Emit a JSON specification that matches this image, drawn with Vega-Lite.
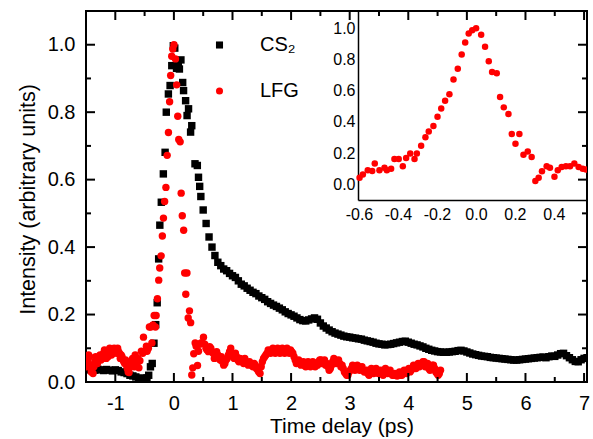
{
"$schema": "https://vega.github.io/schema/vega-lite/v6.json",
"width": 501, "height": 371,
"autosize": {"type": "none"},
"padding": {"left": 86, "top": 11, "right": 6, "bottom": 57},
"background": "white",
"config": {
 "font": "Liberation Sans",
 "view": {"stroke": "#000", "strokeWidth": 2},
 "axis": {"grid": false, "domain": false, "tickColor": "#000", "labelColor": "#000", "titleColor": "#000", "labelFont": "Liberation Sans", "titleFont": "Liberation Sans", "titleFontWeight": "normal", "labelFlush": false, "labelOverlap": false}
},
"datasets": {
"xt": [{"t":-1.5,"k":"minor"},{"t":-1,"k":"major"},{"t":-0.5,"k":"minor"},{"t":0,"k":"major"},{"t":0.5,"k":"minor"},{"t":1,"k":"major"},{"t":1.5,"k":"minor"},{"t":2,"k":"major"},{"t":2.5,"k":"minor"},{"t":3,"k":"major"},{"t":3.5,"k":"minor"},{"t":4,"k":"major"},{"t":4.5,"k":"minor"},{"t":5,"k":"major"},{"t":5.5,"k":"minor"},{"t":6,"k":"major"},{"t":6.5,"k":"minor"},{"t":7,"k":"major"}],
"yt": [{"v":0.1,"k":"minor"},{"v":0.2,"k":"major"},{"v":0.3,"k":"minor"},{"v":0.4,"k":"major"},{"v":0.5,"k":"minor"},{"v":0.6,"k":"major"},{"v":0.7,"k":"minor"},{"v":0.8,"k":"major"},{"v":0.9,"k":"minor"},{"v":1.0,"k":"major"}],
"pts": [
{"s":"CS2","t":-1.5,"v":0.038},{"s":"CS2","t":-1.45,"v":0.036},{"s":"CS2","t":-1.4,"v":0.04},{"s":"CS2","t":-1.35,"v":0.035},{"s":"CS2","t":-1.3,"v":0.038},{"s":"CS2","t":-1.25,"v":0.036},{"s":"CS2","t":-1.2,"v":0.034},{"s":"CS2","t":-1.15,"v":0.037},{"s":"CS2","t":-1.1,"v":0.035},{"s":"CS2","t":-1.05,"v":0.033},{"s":"CS2","t":-1.0,"v":0.036},{"s":"CS2","t":-0.95,"v":0.034},{"s":"CS2","t":-0.9,"v":0.03},{"s":"CS2","t":-0.85,"v":0.028},{"s":"CS2","t":-0.8,"v":0.025},{"s":"CS2","t":-0.75,"v":0.02},{"s":"CS2","t":-0.7,"v":0.018},{"s":"CS2","t":-0.65,"v":0.015},{"s":"CS2","t":-0.6,"v":0.01},{"s":"CS2","t":-0.55,"v":0.012},{"s":"CS2","t":-0.5,"v":0.008},
{"s":"CS2","t":-0.46,"v":0.012},{"s":"CS2","t":-0.43,"v":0.02},{"s":"CS2","t":-0.4,"v":0.045},{"s":"CS2","t":-0.37,"v":0.055},{"s":"CS2","t":-0.34,"v":0.115},{"s":"CS2","t":-0.31,"v":0.17},{"s":"CS2","t":-0.285,"v":0.235},{"s":"CS2","t":-0.26,"v":0.365},{"s":"CS2","t":-0.24,"v":0.465},{"s":"CS2","t":-0.215,"v":0.533},{"s":"CS2","t":-0.18,"v":0.617},{"s":"CS2","t":-0.15,"v":0.681},{"s":"CS2","t":-0.13,"v":0.8},{"s":"CS2","t":-0.094,"v":0.854},{"s":"CS2","t":-0.065,"v":0.879},{"s":"CS2","t":-0.036,"v":0.938},{"s":"CS2","t":-0.01,"v":0.997},{"s":"CS2","t":0.015,"v":0.99},{"s":"CS2","t":0.045,"v":0.93},{"s":"CS2","t":0.075,"v":0.945},{"s":"CS2","t":0.094,"v":0.928},{"s":"CS2","t":0.12,"v":0.955},{"s":"CS2","t":0.15,"v":0.888},{"s":"CS2","t":0.165,"v":0.864},{"s":"CS2","t":0.2,"v":0.834},{"s":"CS2","t":0.225,"v":0.79},{"s":"CS2","t":0.25,"v":0.81},{"s":"CS2","t":0.285,"v":0.741},{"s":"CS2","t":0.305,"v":0.76},{"s":"CS2","t":0.36,"v":0.647},{"s":"CS2","t":0.4,"v":0.642},{"s":"CS2","t":0.42,"v":0.607},{"s":"CS2","t":0.44,"v":0.58},{"s":"CS2","t":0.46,"v":0.55},
{"s":"CS2","t":0.5,"v":0.51},{"s":"CS2","t":0.55,"v":0.47},{"s":"CS2","t":0.6,"v":0.43},{"s":"CS2","t":0.65,"v":0.4},{"s":"CS2","t":0.7,"v":0.375},{"s":"CS2","t":0.75,"v":0.355},{"s":"CS2","t":0.8,"v":0.345},{"s":"CS2","t":0.85,"v":0.335},{"s":"CS2","t":0.9,"v":0.33},{"s":"CS2","t":0.95,"v":0.322},{"s":"CS2","t":1.0,"v":0.315},{"s":"CS2","t":1.05,"v":0.31},{"s":"CS2","t":1.1,"v":0.3},{"s":"CS2","t":1.15,"v":0.29},{"s":"CS2","t":1.2,"v":0.285},{"s":"CS2","t":1.25,"v":0.278},{"s":"CS2","t":1.3,"v":0.272},{"s":"CS2","t":1.35,"v":0.266},{"s":"CS2","t":1.4,"v":0.262},{"s":"CS2","t":1.45,"v":0.255},{"s":"CS2","t":1.5,"v":0.25},{"s":"CS2","t":1.55,"v":0.245},{"s":"CS2","t":1.6,"v":0.238},{"s":"CS2","t":1.65,"v":0.233},{"s":"CS2","t":1.7,"v":0.228},{"s":"CS2","t":1.75,"v":0.224},{"s":"CS2","t":1.8,"v":0.219},{"s":"CS2","t":1.85,"v":0.214},{"s":"CS2","t":1.9,"v":0.208},{"s":"CS2","t":1.95,"v":0.203},{"s":"CS2","t":2.0,"v":0.199},{"s":"CS2","t":2.05,"v":0.195},{"s":"CS2","t":2.1,"v":0.19},{"s":"CS2","t":2.15,"v":0.185},{"s":"CS2","t":2.2,"v":0.182},{"s":"CS2","t":2.25,"v":0.181},{"s":"CS2","t":2.3,"v":0.184},{"s":"CS2","t":2.35,"v":0.187},{"s":"CS2","t":2.4,"v":0.19},{"s":"CS2","t":2.45,"v":0.186},{"s":"CS2","t":2.5,"v":0.175},{"s":"CS2","t":2.55,"v":0.166},{"s":"CS2","t":2.6,"v":0.16},{"s":"CS2","t":2.65,"v":0.154},{"s":"CS2","t":2.7,"v":0.149},{"s":"CS2","t":2.75,"v":0.145},{"s":"CS2","t":2.8,"v":0.142},{"s":"CS2","t":2.85,"v":0.139},{"s":"CS2","t":2.9,"v":0.136},{"s":"CS2","t":2.95,"v":0.134},{"s":"CS2","t":3.0,"v":0.133},{"s":"CS2","t":3.05,"v":0.131},{"s":"CS2","t":3.1,"v":0.13},{"s":"CS2","t":3.15,"v":0.128},{"s":"CS2","t":3.2,"v":0.127},{"s":"CS2","t":3.25,"v":0.124},{"s":"CS2","t":3.3,"v":0.122},{"s":"CS2","t":3.35,"v":0.12},{"s":"CS2","t":3.4,"v":0.118},{"s":"CS2","t":3.45,"v":0.115},{"s":"CS2","t":3.5,"v":0.113},{"s":"CS2","t":3.55,"v":0.112},{"s":"CS2","t":3.6,"v":0.11},{"s":"CS2","t":3.65,"v":0.111},{"s":"CS2","t":3.7,"v":0.112},{"s":"CS2","t":3.75,"v":0.114},{"s":"CS2","t":3.8,"v":0.116},{"s":"CS2","t":3.85,"v":0.118},{"s":"CS2","t":3.9,"v":0.12},{"s":"CS2","t":3.95,"v":0.121},{"s":"CS2","t":4.0,"v":0.118},{"s":"CS2","t":4.05,"v":0.115},{"s":"CS2","t":4.1,"v":0.112},{"s":"CS2","t":4.15,"v":0.11},{"s":"CS2","t":4.2,"v":0.107},{"s":"CS2","t":4.25,"v":0.104},{"s":"CS2","t":4.3,"v":0.1},{"s":"CS2","t":4.35,"v":0.097},{"s":"CS2","t":4.4,"v":0.094},{"s":"CS2","t":4.45,"v":0.092},{"s":"CS2","t":4.5,"v":0.09},{"s":"CS2","t":4.55,"v":0.089},{"s":"CS2","t":4.6,"v":0.088},{"s":"CS2","t":4.65,"v":0.088},{"s":"CS2","t":4.7,"v":0.089},{"s":"CS2","t":4.75,"v":0.09},{"s":"CS2","t":4.8,"v":0.091},{"s":"CS2","t":4.85,"v":0.093},{"s":"CS2","t":4.9,"v":0.094},{"s":"CS2","t":4.95,"v":0.092},{"s":"CS2","t":5.0,"v":0.089},{"s":"CS2","t":5.05,"v":0.086},{"s":"CS2","t":5.1,"v":0.083},{"s":"CS2","t":5.15,"v":0.081},{"s":"CS2","t":5.2,"v":0.079},{"s":"CS2","t":5.25,"v":0.077},{"s":"CS2","t":5.3,"v":0.076},{"s":"CS2","t":5.35,"v":0.075},{"s":"CS2","t":5.4,"v":0.073},{"s":"CS2","t":5.45,"v":0.072},{"s":"CS2","t":5.5,"v":0.071},{"s":"CS2","t":5.55,"v":0.07},{"s":"CS2","t":5.6,"v":0.069},{"s":"CS2","t":5.65,"v":0.068},{"s":"CS2","t":5.7,"v":0.067},{"s":"CS2","t":5.75,"v":0.066},{"s":"CS2","t":5.8,"v":0.065},{"s":"CS2","t":5.85,"v":0.065},{"s":"CS2","t":5.9,"v":0.066},{"s":"CS2","t":5.95,"v":0.067},{"s":"CS2","t":6.0,"v":0.068},{"s":"CS2","t":6.05,"v":0.069},{"s":"CS2","t":6.1,"v":0.07},{"s":"CS2","t":6.15,"v":0.071},{"s":"CS2","t":6.2,"v":0.072},{"s":"CS2","t":6.25,"v":0.073},{"s":"CS2","t":6.3,"v":0.074},{"s":"CS2","t":6.35,"v":0.072},{"s":"CS2","t":6.4,"v":0.075},{"s":"CS2","t":6.45,"v":0.077},{"s":"CS2","t":6.5,"v":0.076},{"s":"CS2","t":6.55,"v":0.08},{"s":"CS2","t":6.6,"v":0.084},{"s":"CS2","t":6.65,"v":0.085},{"s":"CS2","t":6.7,"v":0.078},{"s":"CS2","t":6.75,"v":0.072},{"s":"CS2","t":6.8,"v":0.066},{"s":"CS2","t":6.85,"v":0.061},{"s":"CS2","t":6.9,"v":0.06},{"s":"CS2","t":6.95,"v":0.066},{"s":"CS2","t":7.0,"v":0.07},{"s":"CS2","t":7.05,"v":0.072},
{"s":"LFG","t":-1.5,"v":0.07},{"s":"LFG","t":-1.47,"v":0.06},{"s":"LFG","t":-1.44,"v":0.075},{"s":"LFG","t":-1.41,"v":0.03},{"s":"LFG","t":-1.38,"v":0.025},{"s":"LFG","t":-1.35,"v":0.06},{"s":"LFG","t":-1.32,"v":0.07},{"s":"LFG","t":-1.29,"v":0.065},{"s":"LFG","t":-1.26,"v":0.08},{"s":"LFG","t":-1.23,"v":0.075},{"s":"LFG","t":-1.2,"v":0.085},{"s":"LFG","t":-1.17,"v":0.08},{"s":"LFG","t":-1.14,"v":0.09},{"s":"LFG","t":-1.11,"v":0.085},{"s":"LFG","t":-1.08,"v":0.095},{"s":"LFG","t":-1.05,"v":0.09},{"s":"LFG","t":-1.02,"v":0.1},{"s":"LFG","t":-0.99,"v":0.095},{"s":"LFG","t":-0.96,"v":0.1},{"s":"LFG","t":-0.93,"v":0.085},{"s":"LFG","t":-0.9,"v":0.08},{"s":"LFG","t":-0.87,"v":0.065},{"s":"LFG","t":-0.84,"v":0.055},{"s":"LFG","t":-0.81,"v":0.05},{"s":"LFG","t":-0.78,"v":0.03},{"s":"LFG","t":-0.75,"v":0.045},{"s":"LFG","t":-0.72,"v":0.06},{"s":"LFG","t":-0.69,"v":0.055},{"s":"LFG","t":-0.66,"v":0.08},{"s":"LFG","t":-0.63,"v":0.05},
{"s":"LFG","t":-1.485,"v":0.045},{"s":"LFG","t":-1.455,"v":0.08},{"s":"LFG","t":-1.425,"v":0.05},{"s":"LFG","t":-1.395,"v":0.04},{"s":"LFG","t":-1.365,"v":0.045},{"s":"LFG","t":-1.335,"v":0.075},{"s":"LFG","t":-1.305,"v":0.055},{"s":"LFG","t":-1.275,"v":0.07},{"s":"LFG","t":-1.245,"v":0.065},{"s":"LFG","t":-1.215,"v":0.07},{"s":"LFG","t":-1.185,"v":0.095},{"s":"LFG","t":-1.155,"v":0.07},{"s":"LFG","t":-1.125,"v":0.075},{"s":"LFG","t":-1.095,"v":0.1},{"s":"LFG","t":-1.065,"v":0.08},{"s":"LFG","t":-1.035,"v":0.085},{"s":"LFG","t":-1.005,"v":0.09},{"s":"LFG","t":-0.975,"v":0.085},{"s":"LFG","t":-0.945,"v":0.09},{"s":"LFG","t":-0.915,"v":0.07},{"s":"LFG","t":-0.885,"v":0.075},{"s":"LFG","t":-0.855,"v":0.06},{"s":"LFG","t":-0.825,"v":0.065},{"s":"LFG","t":-0.795,"v":0.04},{"s":"LFG","t":-0.765,"v":0.028},{"s":"LFG","t":-0.735,"v":0.055},{"s":"LFG","t":-0.705,"v":0.07},{"s":"LFG","t":-0.675,"v":0.045},{"s":"LFG","t":-0.645,"v":0.065},{"s":"LFG","t":-0.615,"v":0.07},
{"s":"LFG","t":-0.597,"v":0.042},{"s":"LFG","t":-0.58,"v":0.063},{"s":"LFG","t":-0.555,"v":0.091},{"s":"LFG","t":-0.532,"v":0.085},{"s":"LFG","t":-0.519,"v":0.133},{"s":"LFG","t":-0.495,"v":0.091},{"s":"LFG","t":-0.469,"v":0.106},{"s":"LFG","t":-0.457,"v":0.091},{"s":"LFG","t":-0.435,"v":0.1},{"s":"LFG","t":-0.418,"v":0.163},{"s":"LFG","t":-0.396,"v":0.163},{"s":"LFG","t":-0.375,"v":0.116},{"s":"LFG","t":-0.358,"v":0.169},{"s":"LFG","t":-0.337,"v":0.197},{"s":"LFG","t":-0.315,"v":0.163},{"s":"LFG","t":-0.303,"v":0.197},{"s":"LFG","t":-0.281,"v":0.247},{"s":"LFG","t":-0.259,"v":0.302},{"s":"LFG","t":-0.242,"v":0.338},{"s":"LFG","t":-0.218,"v":0.374},{"s":"LFG","t":-0.197,"v":0.433},{"s":"LFG","t":-0.178,"v":0.486},{"s":"LFG","t":-0.158,"v":0.535},{"s":"LFG","t":-0.136,"v":0.577},{"s":"LFG","t":-0.115,"v":0.672},{"s":"LFG","t":-0.093,"v":0.74},{"s":"LFG","t":-0.073,"v":0.831},{"s":"LFG","t":-0.055,"v":0.909},{"s":"LFG","t":-0.037,"v":0.966},{"s":"LFG","t":-0.019,"v":0.987},{"s":"LFG","t":0.001,"v":1.0},{"s":"LFG","t":0.027,"v":0.958},{"s":"LFG","t":0.047,"v":0.881},{"s":"LFG","t":0.066,"v":0.788},{"s":"LFG","t":0.083,"v":0.719},{"s":"LFG","t":0.107,"v":0.712},{"s":"LFG","t":0.124,"v":0.56},{"s":"LFG","t":0.143,"v":0.493},{"s":"LFG","t":0.167,"v":0.45},{"s":"LFG","t":0.184,"v":0.323},{"s":"LFG","t":0.203,"v":0.26},{"s":"LFG","t":0.223,"v":0.323},{"s":"LFG","t":0.244,"v":0.19},{"s":"LFG","t":0.266,"v":0.211},{"s":"LFG","t":0.286,"v":0.176},{"s":"LFG","t":0.305,"v":0.021},{"s":"LFG","t":0.322,"v":0.042},{"s":"LFG","t":0.339,"v":0.084},{"s":"LFG","t":0.363,"v":0.116},{"s":"LFG","t":0.38,"v":0.106},{"s":"LFG","t":0.403,"v":0.049},{"s":"LFG","t":0.42,"v":0.091},{"s":"LFG","t":0.44,"v":0.112},{"s":"LFG","t":0.462,"v":0.116},{"s":"LFG","t":0.483,"v":0.116},{"s":"LFG","t":0.505,"v":0.133},{"s":"LFG","t":0.527,"v":0.112},{"s":"LFG","t":0.548,"v":0.1},{"s":"LFG","t":0.565,"v":0.095},
{"s":"LFG","t":0.59,"v":0.09},{"s":"LFG","t":0.63,"v":0.1},{"s":"LFG","t":0.67,"v":0.085},{"s":"LFG","t":0.71,"v":0.075},{"s":"LFG","t":0.75,"v":0.08},{"s":"LFG","t":0.79,"v":0.065},{"s":"LFG","t":0.83,"v":0.06},{"s":"LFG","t":0.87,"v":0.055},{"s":"LFG","t":0.91,"v":0.07},{"s":"LFG","t":0.95,"v":0.09},{"s":"LFG","t":0.99,"v":0.085},{"s":"LFG","t":1.03,"v":0.07},{"s":"LFG","t":1.07,"v":0.075},{"s":"LFG","t":1.11,"v":0.06},{"s":"LFG","t":1.15,"v":0.065},{"s":"LFG","t":1.19,"v":0.055},{"s":"LFG","t":1.23,"v":0.06},{"s":"LFG","t":1.27,"v":0.05},{"s":"LFG","t":1.31,"v":0.055},{"s":"LFG","t":1.35,"v":0.045},{"s":"LFG","t":1.39,"v":0.05},{"s":"LFG","t":1.43,"v":0.035},{"s":"LFG","t":1.47,"v":0.025},{"s":"LFG","t":1.51,"v":0.06},{"s":"LFG","t":1.55,"v":0.075},{"s":"LFG","t":1.59,"v":0.085},{"s":"LFG","t":1.63,"v":0.09},{"s":"LFG","t":1.67,"v":0.095},{"s":"LFG","t":1.71,"v":0.09},{"s":"LFG","t":1.75,"v":0.095},{"s":"LFG","t":1.79,"v":0.09},{"s":"LFG","t":1.83,"v":0.095},{"s":"LFG","t":1.87,"v":0.09},{"s":"LFG","t":1.91,"v":0.095},{"s":"LFG","t":1.95,"v":0.09},{"s":"LFG","t":1.99,"v":0.095},{"s":"LFG","t":2.03,"v":0.085},{"s":"LFG","t":2.07,"v":0.065},{"s":"LFG","t":2.11,"v":0.06},{"s":"LFG","t":2.15,"v":0.06},{"s":"LFG","t":2.19,"v":0.055},{"s":"LFG","t":2.23,"v":0.05},{"s":"LFG","t":2.27,"v":0.055},{"s":"LFG","t":2.31,"v":0.05},{"s":"LFG","t":2.35,"v":0.055},{"s":"LFG","t":2.39,"v":0.05},{"s":"LFG","t":2.43,"v":0.055},{"s":"LFG","t":2.47,"v":0.06},{"s":"LFG","t":2.51,"v":0.065},{"s":"LFG","t":2.55,"v":0.06},{"s":"LFG","t":2.59,"v":0.05},{"s":"LFG","t":2.63,"v":0.045},{"s":"LFG","t":2.67,"v":0.04},{"s":"LFG","t":2.71,"v":0.06},{"s":"LFG","t":2.75,"v":0.065},{"s":"LFG","t":2.79,"v":0.06},{"s":"LFG","t":2.83,"v":0.055},{"s":"LFG","t":2.87,"v":0.05},{"s":"LFG","t":2.91,"v":0.03},{"s":"LFG","t":2.95,"v":0.02},{"s":"LFG","t":2.99,"v":0.03},{"s":"LFG","t":3.03,"v":0.04},{"s":"LFG","t":3.07,"v":0.045},{"s":"LFG","t":3.11,"v":0.04},{"s":"LFG","t":3.15,"v":0.045},{"s":"LFG","t":3.19,"v":0.04},{"s":"LFG","t":3.23,"v":0.035},{"s":"LFG","t":3.27,"v":0.03},{"s":"LFG","t":3.31,"v":0.025},{"s":"LFG","t":3.35,"v":0.03},{"s":"LFG","t":3.39,"v":0.035},{"s":"LFG","t":3.43,"v":0.03},{"s":"LFG","t":3.47,"v":0.035},{"s":"LFG","t":3.51,"v":0.03},{"s":"LFG","t":3.55,"v":0.025},{"s":"LFG","t":3.59,"v":0.03},{"s":"LFG","t":3.63,"v":0.035},{"s":"LFG","t":3.67,"v":0.03},{"s":"LFG","t":3.71,"v":0.025},{"s":"LFG","t":3.75,"v":0.02},{"s":"LFG","t":3.79,"v":0.02},{"s":"LFG","t":3.83,"v":0.025},{"s":"LFG","t":3.87,"v":0.02},{"s":"LFG","t":3.91,"v":0.025},{"s":"LFG","t":3.95,"v":0.03},{"s":"LFG","t":3.99,"v":0.035},{"s":"LFG","t":4.03,"v":0.03},{"s":"LFG","t":4.07,"v":0.04},{"s":"LFG","t":4.11,"v":0.045},{"s":"LFG","t":4.15,"v":0.05},{"s":"LFG","t":4.19,"v":0.045},{"s":"LFG","t":4.23,"v":0.055},{"s":"LFG","t":4.27,"v":0.06},{"s":"LFG","t":4.31,"v":0.05},{"s":"LFG","t":4.35,"v":0.04},{"s":"LFG","t":4.39,"v":0.045},{"s":"LFG","t":4.43,"v":0.05},{"s":"LFG","t":4.47,"v":0.03},{"s":"LFG","t":4.51,"v":0.02},{"s":"LFG","t":4.55,"v":0.035},
{"s":"LFG","t":0.61,"v":0.105},{"s":"LFG","t":0.65,"v":0.09},{"s":"LFG","t":0.69,"v":0.07},{"s":"LFG","t":0.73,"v":0.09},{"s":"LFG","t":0.77,"v":0.07},{"s":"LFG","t":0.81,"v":0.075},{"s":"LFG","t":0.85,"v":0.05},{"s":"LFG","t":0.89,"v":0.065},{"s":"LFG","t":0.93,"v":0.08},{"s":"LFG","t":0.97,"v":0.1},{"s":"LFG","t":1.01,"v":0.075},{"s":"LFG","t":1.05,"v":0.085},{"s":"LFG","t":1.09,"v":0.065},{"s":"LFG","t":1.13,"v":0.07},{"s":"LFG","t":1.17,"v":0.06},{"s":"LFG","t":1.21,"v":0.07},{"s":"LFG","t":1.25,"v":0.055},{"s":"LFG","t":1.29,"v":0.06},{"s":"LFG","t":1.33,"v":0.05},{"s":"LFG","t":1.37,"v":0.055},{"s":"LFG","t":1.41,"v":0.04},{"s":"LFG","t":1.45,"v":0.03},{"s":"LFG","t":1.49,"v":0.045},{"s":"LFG","t":1.53,"v":0.07},{"s":"LFG","t":1.57,"v":0.08},{"s":"LFG","t":1.61,"v":0.095},{"s":"LFG","t":1.65,"v":0.085},{"s":"LFG","t":1.69,"v":0.1},{"s":"LFG","t":1.73,"v":0.085},{"s":"LFG","t":1.77,"v":0.1},{"s":"LFG","t":1.81,"v":0.085},{"s":"LFG","t":1.85,"v":0.1},{"s":"LFG","t":1.89,"v":0.085},{"s":"LFG","t":1.93,"v":0.1},{"s":"LFG","t":1.97,"v":0.085},{"s":"LFG","t":2.01,"v":0.09},{"s":"LFG","t":2.05,"v":0.075},{"s":"LFG","t":2.09,"v":0.055},{"s":"LFG","t":2.13,"v":0.065},{"s":"LFG","t":2.17,"v":0.05},{"s":"LFG","t":2.21,"v":0.06},{"s":"LFG","t":2.25,"v":0.045},{"s":"LFG","t":2.29,"v":0.06},{"s":"LFG","t":2.33,"v":0.045},{"s":"LFG","t":2.37,"v":0.06},{"s":"LFG","t":2.41,"v":0.045},{"s":"LFG","t":2.45,"v":0.05},{"s":"LFG","t":2.49,"v":0.065},{"s":"LFG","t":2.53,"v":0.055},{"s":"LFG","t":2.57,"v":0.065},{"s":"LFG","t":2.61,"v":0.055},{"s":"LFG","t":2.65,"v":0.035},{"s":"LFG","t":2.69,"v":0.05},{"s":"LFG","t":2.73,"v":0.07},{"s":"LFG","t":2.77,"v":0.055},{"s":"LFG","t":2.81,"v":0.065},{"s":"LFG","t":2.85,"v":0.045},{"s":"LFG","t":2.89,"v":0.04},{"s":"LFG","t":2.93,"v":0.025},{"s":"LFG","t":2.97,"v":0.02},{"s":"LFG","t":3.01,"v":0.035},{"s":"LFG","t":3.05,"v":0.05},{"s":"LFG","t":3.09,"v":0.035},{"s":"LFG","t":3.13,"v":0.05},{"s":"LFG","t":3.17,"v":0.035},{"s":"LFG","t":3.21,"v":0.045},{"s":"LFG","t":3.25,"v":0.03},{"s":"LFG","t":3.29,"v":0.035},{"s":"LFG","t":3.33,"v":0.02},{"s":"LFG","t":3.37,"v":0.04},{"s":"LFG","t":3.41,"v":0.025},{"s":"LFG","t":3.45,"v":0.04},{"s":"LFG","t":3.49,"v":0.025},{"s":"LFG","t":3.53,"v":0.035},{"s":"LFG","t":3.57,"v":0.02},{"s":"LFG","t":3.61,"v":0.04},{"s":"LFG","t":3.65,"v":0.025},{"s":"LFG","t":3.69,"v":0.035},{"s":"LFG","t":3.73,"v":0.02},{"s":"LFG","t":3.77,"v":0.025},{"s":"LFG","t":3.81,"v":0.018},{"s":"LFG","t":3.85,"v":0.03},{"s":"LFG","t":3.89,"v":0.02},{"s":"LFG","t":3.93,"v":0.035},{"s":"LFG","t":3.97,"v":0.025},{"s":"LFG","t":4.01,"v":0.04},{"s":"LFG","t":4.05,"v":0.035},{"s":"LFG","t":4.09,"v":0.05},{"s":"LFG","t":4.13,"v":0.04},{"s":"LFG","t":4.17,"v":0.055},{"s":"LFG","t":4.21,"v":0.05},{"s":"LFG","t":4.25,"v":0.06},{"s":"LFG","t":4.29,"v":0.045},{"s":"LFG","t":4.33,"v":0.055},{"s":"LFG","t":4.37,"v":0.035},{"s":"LFG","t":4.41,"v":0.05},{"s":"LFG","t":4.45,"v":0.04},{"s":"LFG","t":4.49,"v":0.025},{"s":"LFG","t":4.53,"v":0.025}
]},
"layer": [
 {
  "layer": [
   {
    "data": {"name": "pts"},
    "mark": {"type": "point", "filled": true, "opacity": 1, "size": 55, "strokeWidth": 0, "clip": true},
    "encoding": {
     "x": {"field": "t", "type": "quantitative", "scale": {"domain": [-1.5, 7.05], "nice": false, "zero": false},
           "axis": {"orient": "bottom", "values": [-1,0,1,2,3,4,5,6,7], "format": "d", "labelExpr": "replace(datum.label, '−', '-')", "ticks": false, "labelPadding": 11.5, "labelFontSize": 20, "title": "Time delay (ps)", "titleFontSize": 21, "titleX": 255.5, "titleY": 50, "titleAlign": "center", "titleBaseline": "alphabetic"}},
     "y": {"field": "v", "type": "quantitative", "scale": {"domain": [0, 1.1], "nice": false, "zero": false},
           "axis": {"orient": "left", "values": [0,0.2,0.4,0.6,0.8,1.0], "format": ".1f", "ticks": false, "labelPadding": 11, "labelFontSize": 20, "title": "Intensity (arbitrary units)", "titleFontSize": 21.5, "titleX": -52, "titleY": 188, "titleAngle": -90, "titleAlign": "center", "titleBaseline": "alphabetic"}},
     "color": {"field": "s", "type": "nominal", "scale": {"domain": ["CS2","LFG"], "range": ["#000000","#ff0000"]},
               "legend": {"orient": "none", "legendX": 123.5, "legendY": 24, "title": null, "labelFontSize": 20, "labelFont": "Liberation Sans", "labelColor": "#000", "labelOffset": 30.5, "rowPadding": 26, "symbolSize": 50, "padding": 0, "symbolStrokeWidth": 0, "labelExpr": "datum.label == 'CS2' ? 'CS₂' : datum.label"}},
     "shape": {"field": "s", "type": "nominal", "scale": {"domain": ["CS2","LFG"], "range": ["square","circle"]},
               "legend": {"orient": "none", "legendX": 123.5, "legendY": 24, "title": null, "labelFontSize": 20, "labelFont": "Liberation Sans", "labelColor": "#000", "labelOffset": 30.5, "rowPadding": 26, "symbolSize": 50, "padding": 0, "symbolStrokeWidth": 0, "labelExpr": "datum.label == 'CS2' ? 'CS₂' : datum.label"}}
    }
   },
   {
    "data": {"name": "xt"},
    "mark": {"type": "tick", "orient": "vertical", "thickness": 2, "color": "#000", "opacity": 1, "clip": true},
    "encoding": {
     "x": {"field": "t", "type": "quantitative", "scale": {"domain": [-1.5, 7.05], "nice": false, "zero": false}, "axis": null},
     "y": {"datum": 0, "type": "quantitative", "scale": {"domain": [0, 1.1], "nice": false, "zero": false}, "axis": null},
     "size": {"field": "k", "type": "ordinal", "scale": {"domain": ["major","minor"], "range": [18, 10]}, "legend": null}
    }
   },
   {
    "data": {"name": "xt"},
    "mark": {"type": "tick", "orient": "vertical", "thickness": 2, "color": "#000", "opacity": 1, "clip": true},
    "encoding": {
     "x": {"field": "t", "type": "quantitative", "scale": {"domain": [-1.5, 7.05], "nice": false, "zero": false}, "axis": null},
     "y": {"datum": 1.1, "type": "quantitative", "scale": {"domain": [0, 1.1], "nice": false, "zero": false}, "axis": null},
     "size": {"field": "k", "type": "ordinal", "scale": {"domain": ["major","minor"], "range": [18, 10]}, "legend": null}
    }
   },
   {
    "data": {"name": "yt"},
    "mark": {"type": "tick", "orient": "horizontal", "thickness": 2, "color": "#000", "opacity": 1, "clip": true},
    "encoding": {
     "y": {"field": "v", "type": "quantitative", "scale": {"domain": [0, 1.1], "nice": false, "zero": false}, "axis": null},
     "x": {"datum": -1.5, "type": "quantitative", "scale": {"domain": [-1.5, 7.05], "nice": false, "zero": false}, "axis": null},
     "size": {"field": "k", "type": "ordinal", "scale": {"domain": ["major","minor"], "range": [18, 10]}, "legend": null}
    }
   },
   {
    "data": {"name": "yt"},
    "mark": {"type": "tick", "orient": "horizontal", "thickness": 2, "color": "#000", "opacity": 1, "clip": true},
    "encoding": {
     "y": {"field": "v", "type": "quantitative", "scale": {"domain": [0, 1.1], "nice": false, "zero": false}, "axis": null},
     "x": {"datum": 7.05, "type": "quantitative", "scale": {"domain": [-1.5, 7.05], "nice": false, "zero": false}, "axis": null},
     "size": {"field": "k", "type": "ordinal", "scale": {"domain": ["major","minor"], "range": [18, 10]}, "legend": null}
    }
   }
  ],
  "resolve": {"axis": {"x": "independent", "y": "independent"}}
 },
 {
  "data": {"name": "pts"},
  "transform": [{"filter": "datum.s == 'LFG' && datum.t >= -0.6 && datum.t <= 0.58"}],
  "mark": {"type": "point", "filled": true, "opacity": 1, "size": 42, "strokeWidth": 0, "color": "#ff0000", "clip": true},
  "encoding": {
   "x": {"field": "t", "type": "quantitative", "scale": {"domain": [-0.605, 0.57], "range": [272, 501], "nice": false, "zero": false},
         "axis": {"orient": "bottom", "offset": -182, "values": [-0.6,-0.4,-0.2,0,0.2,0.4], "format": ".1f", "labelExpr": "replace(datum.label, '−', '-')", "ticks": false, "labelPadding": 6, "labelFontSize": 16, "domain": true, "domainColor": "#000", "domainWidth": 1.5, "title": null}},
   "y": {"field": "v", "type": "quantitative", "scale": {"domain": [-0.1, 1.11], "range": [189, 0], "nice": false, "zero": false},
         "axis": {"orient": "left", "offset": -272, "values": [0,0.2,0.4,0.6,0.8,1.0], "format": ".1f", "ticks": false, "labelPadding": 3, "labelFontSize": 16, "domain": true, "domainColor": "#000", "domainWidth": 1.5, "title": null}}
  }
 }
],
"resolve": {"scale": {"x": "independent", "y": "independent"}}
}
